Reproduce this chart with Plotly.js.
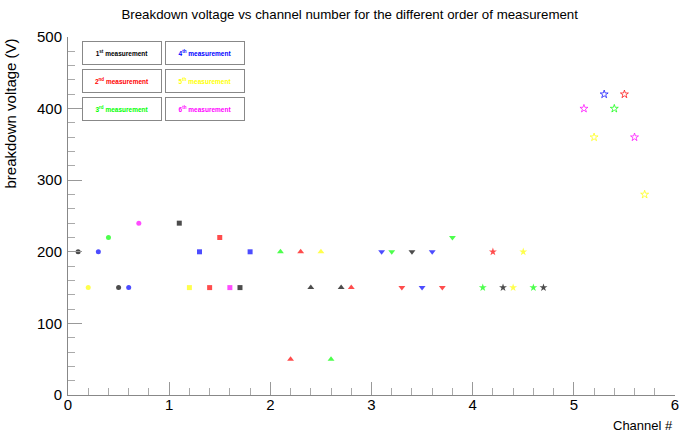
<!DOCTYPE html>
<html>
<head>
<meta charset="utf-8">
<script src="https://cdn.plot.ly/plotly-3.0.1.min.js"></script>
<style>html,body{margin:0;padding:0;background:#fff}#chart{width:679px;height:435px}</style>
</head>
<body>
<div id="chart"></div>
<script>
// Data: channel number and breakdown voltage for each measurement order
const labels = ["1<sup>st</sup> measurement","2<sup>nd</sup> measurement","3<sup>rd</sup> measurement","4<sup>th</sup> measurement","5<sup>th</sup> measurement","6<sup>th</sup> measurement"];
const colors = ["#000000","#ff0000","#00ff00","#0000ff","#ffff00","#ff00ff"];
const m1x = [0.1,0.5,1.1,1.7,2.4,2.7,3.4,4.3,4.7];
const m1y = [200,150,240,150,150,150,200,150,150];
const m2x = [1.4,1.5,2.2,2.3,2.8,3.3,3.7,4.2,5.5];
const m2y = [150,220,50,200,150,150,150,200,420];
const m3x = [0.4,2.1,2.6,3.2,3.8,4.1,4.6,5.4];
const m3y = [220,200,50,200,220,150,150,400];
const m4x = [0.3,0.6,1.3,1.8,3.1,3.5,3.6,5.3];
const m4y = [200,150,200,200,200,150,200,420];
const m5x = [0.2,1.2,2.5,4.4,4.5,5.2,5.7];
const m5y = [150,150,200,150,200,360,280];
const m6x = [0.7,1.6,5.1,5.6];
const m6y = [240,150,400,360];
const xTicks = [0,1,2,3,4,5,6];

const xs = [m1x,m2x,m3x,m4x,m5x,m6x];
const ys = [m1y,m2y,m3y,m4y,m5y,m6y];
// marker style depends on channel group
const groupSymbols = ["circle","square","triangle-up","triangle-down","star","star-open"];
const groupSizes = [5,5,6,6,6,6];

const traces = xs.map((x,i)=>({
  type:"scatter", mode:"markers", x:x, y:ys[i], name:labels[i],
  marker:{
    color:colors[i],
    symbol:x.map(v=>groupSymbols[Math.floor(v)]),
    size:x.map(v=>groupSizes[Math.floor(v)]),
    line:{width:x.map(v=>Math.floor(v)===5?1:0), color:colors[i]}
  },
  showlegend:false
}));

// legend boxes as annotations (2 columns x 3 rows)
const legendAnn = [];
const colX = [0.529,1.354];
const rowY = [478,439,400];
labels.forEach((t,i)=>{
  const col = Math.floor(i/3), row = i%3;
  legendAnn.push({
    x:colX[col], y:rowY[row], xref:"x", yref:"y", text:"<b>"+t+"</b>", showarrow:false,
    font:{family:"Liberation Sans, Arial, sans-serif", size:6.5, color:colors[i]},
    width:76, height:20, bordercolor:"#888888", borderwidth:1, bgcolor:"#ffffff",
    xanchor:"center", yanchor:"middle", align:"center", valign:"middle"
  });
});

const axisFont = {family:"Liberation Sans, Arial, sans-serif", size:15, color:"#000"};
const layout = {
  width:679, height:435,
  margin:{l:68, r:4, t:37, b:40},
  paper_bgcolor:"#fff", plot_bgcolor:"#fff",
  font:{family:"Liberation Sans, Arial, sans-serif"},
  title:{text:"Breakdown voltage vs channel number for the different order of measurement",
    font:{family:"Liberation Sans, Arial, sans-serif", size:13.3, color:"#000"},
    x:0.515, xanchor:"center", y:0.968, yanchor:"middle"},
  xaxis:{range:[0,6], tickmode:"array", tickvals:xTicks, ticktext:xTicks.map(String),
    showgrid:false, zeroline:false,
    showline:true, linecolor:"#888", linewidth:1,
    ticks:"inside", ticklen:13, tickcolor:"#999", tickwidth:1,
    minor:{tickmode:"linear", tick0:0, dtick:0.2, ticks:"inside", ticklen:7, tickcolor:"#aaa", tickwidth:1},
    tickfont:axisFont, ticklabelstandoff:-4, ticklabeloverflow:"allow"},
  yaxis:{range:[0,500], tick0:0, dtick:100, showgrid:false, zeroline:false,
    showline:true, linecolor:"#888", linewidth:1,
    ticks:"inside", ticklen:14, tickcolor:"#999", tickwidth:1,
    minor:{dtick:20, ticks:"inside", ticklen:7, tickcolor:"#aaa", tickwidth:1},
    tickfont:axisFont, ticklabelstandoff:2},
  annotations:legendAnn.concat([
    {text:"Channel #", xref:"paper", yref:"paper", x:1, y:0, xanchor:"right", yanchor:"top",
     yshift:-21, showarrow:false, font:{family:"Liberation Sans, Arial, sans-serif", size:13, color:"#000"}},
    {text:"breakdown voltage (V)", xref:"paper", yref:"paper", x:0, y:1, xanchor:"right", yanchor:"top",
     xshift:-48, textangle:-90, showarrow:false, font:{family:"Liberation Sans, Arial, sans-serif", size:15, color:"#000"}}
  ])
};

Plotly.newPlot("chart", traces, layout, {displayModeBar:false, staticPlot:true});
</script>
</body>
</html>
